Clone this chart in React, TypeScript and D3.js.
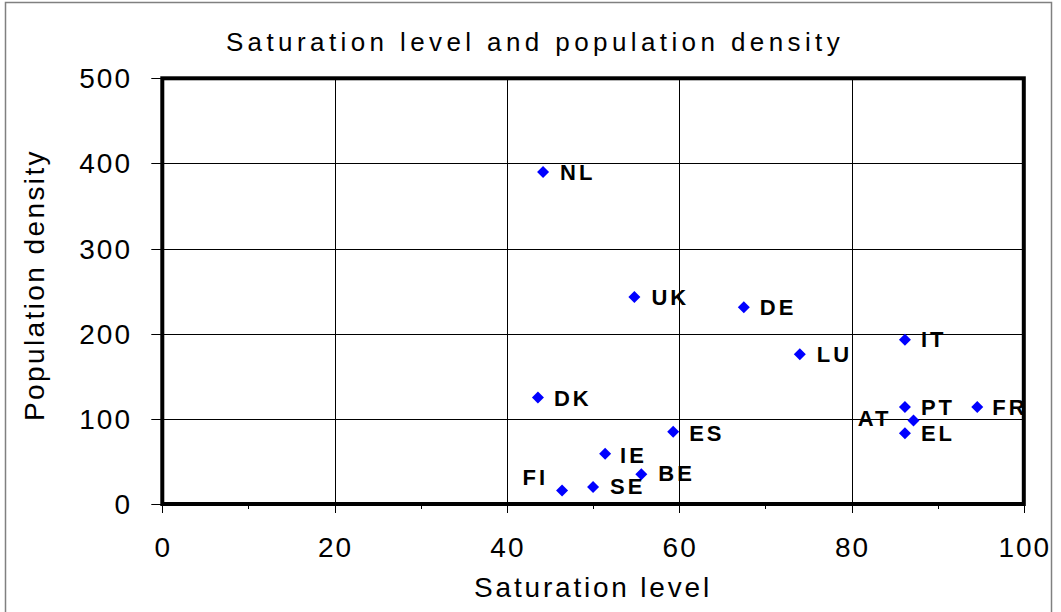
import React from "react";
import * as d3 from "d3";

const countries = ["NL", "UK", "DE", "LU", "IT", "DK", "PT", "FR", "AT", "EL", "ES", "IE", "BE", "SE", "FI"];
const saturation = [44.2, 54.8, 67.5, 74.0, 86.2, 43.6, 86.2, 94.6, 87.2, 86.2, 59.3, 51.4, 55.6, 50.0, 46.4];
const density = [390, 243, 231, 176, 193, 125, 114, 114, 98, 83, 85, 59, 35, 20, 16];
const xTicks = [0, 20, 40, 60, 80, 100];
const xMinorTicks = [10, 30, 50, 70, 90];
const yTicks = [0, 100, 200, 300, 400, 500];

// label placement relative to each point (dx, dy of label anchor, anchor side)
const labelPlacement: Record<string, { dx: number; dy: number; anchor: "start" | "end" }> = {
  NL: { dx: 17, dy: 0, anchor: "start" },
  UK: { dx: 17, dy: 0, anchor: "start" },
  DE: { dx: 16, dy: 0, anchor: "start" },
  LU: { dx: 17, dy: 0, anchor: "start" },
  IT: { dx: 16, dy: -1, anchor: "start" },
  DK: { dx: 16, dy: 0, anchor: "start" },
  PT: { dx: 16, dy: 0, anchor: "start" },
  FR: { dx: 15, dy: 0, anchor: "start" },
  AT: { dx: -22, dy: -3, anchor: "end" },
  EL: { dx: 16, dy: 0, anchor: "start" },
  ES: { dx: 16, dy: 1, anchor: "start" },
  IE: { dx: 15, dy: 1, anchor: "start" },
  BE: { dx: 17, dy: -1, anchor: "start" },
  SE: { dx: 17, dy: -1, anchor: "start" },
  FI: { dx: -14, dy: -13, anchor: "end" },
};

const W = 1061;
const H = 612;
const plot = { left: 162.3, right: 1023.8, top: 78.3, bottom: 504 };
const FONT = "'Liberation Sans', Arial, sans-serif";

export default function App() {
  const x = d3.scaleLinear().domain([0, 100]).range([plot.left, plot.right]);
  const y = d3.scaleLinear().domain([0, 500]).range([plot.bottom, plot.top]);
  const diamond = d3.symbol().type(d3.symbolSquare).size(72)();

  return (
    <svg
      width={W}
      height={H}
      style={{ position: "absolute", left: 0, top: 0, background: "#fff" }}
    >
      <rect x={0} y={0} width={W} height={H} fill="#fff" />
      <rect x={5.5} y={2.5} width={1046} height={H + 10} fill="none" stroke="#808080" strokeWidth={1.5} />

      <text
        x={535}
        y={51}
        textAnchor="middle"
        fontFamily={FONT}
        fontSize={26}
        letterSpacing={4.4}
        fill="#000"
      >
        Saturation level and population density
      </text>

      {/* gridlines */}
      {xTicks.slice(1, -1).map((t) => (
        <line key={"gx" + t} x1={Math.round(x(t)) + 0.5} x2={Math.round(x(t)) + 0.5} y1={plot.top} y2={plot.bottom} stroke="#000" strokeWidth={1} />
      ))}
      {yTicks.slice(1, -1).map((t) => (
        <line key={"gy" + t} x1={plot.left} x2={plot.right} y1={Math.round(y(t)) + 0.5} y2={Math.round(y(t)) + 0.5} stroke="#000" strokeWidth={1} />
      ))}

      {/* ticks */}
      {xTicks.map((t) => (
        <line key={"tx" + t} x1={Math.round(x(t)) + 0.5} x2={Math.round(x(t)) + 0.5} y1={plot.bottom} y2={plot.bottom + 9} stroke="#000" strokeWidth={1} />
      ))}
      {xMinorTicks.map((t) => (
        <line key={"mx" + t} x1={Math.round(x(t)) + 0.5} x2={Math.round(x(t)) + 0.5} y1={plot.bottom} y2={plot.bottom + 5} stroke="#000" strokeWidth={1} />
      ))}
      {yTicks.map((t) => (
        <line key={"ty" + t} x1={plot.left - 11} x2={plot.left} y1={Math.round(y(t)) + 0.5} y2={Math.round(y(t)) + 0.5} stroke="#000" strokeWidth={1} />
      ))}

      {/* plot border */}
      <rect
        x={plot.left}
        y={plot.top}
        width={plot.right - plot.left}
        height={plot.bottom - plot.top}
        fill="none"
        stroke="#000"
        strokeWidth={4}
      />

      {/* tick labels */}
      {xTicks.map((t) => (
        <text key={"lx" + t} x={x(t) + 1} y={557} textAnchor="middle" fontFamily={FONT} fontSize={28} letterSpacing={2} fill="#000">
          {t}
        </text>
      ))}
      {yTicks.map((t) => (
        <text key={"ly" + t} x={132} y={y(t) + 10} textAnchor="end" fontFamily={FONT} fontSize={28} letterSpacing={2} fill="#000">
          {t}
        </text>
      ))}

      {/* axis titles */}
      <text x={593} y={597} textAnchor="middle" fontFamily={FONT} fontSize={28} letterSpacing={2.8} fill="#000">
        Saturation level
      </text>
      <text
        transform={`translate(44,285) rotate(-90)`}
        textAnchor="middle"
        fontFamily={FONT}
        fontSize={28}
        letterSpacing={2.4}
        fill="#000"
      >
        Population density
      </text>

      {/* points */}
      {countries.map((c, i) => (
        <path
          key={"p" + c}
          d={diamond}
          transform={`translate(${x(saturation[i])},${y(density[i])}) rotate(45)`}
          fill="#0000ff"
        />
      ))}

      {/* labels */}
      {countries.map((c, i) => {
        const p = labelPlacement[c];
        return (
          <text
            key={"t" + c}
            x={x(saturation[i]) + p.dx}
            y={y(density[i]) + p.dy + 8}
            textAnchor={p.anchor}
            fontFamily={FONT}
            fontWeight="bold"
            fontSize={22}
            letterSpacing={3}
            fill="#000"
          >
            {c}
          </text>
        );
      })}
    </svg>
  );
}
